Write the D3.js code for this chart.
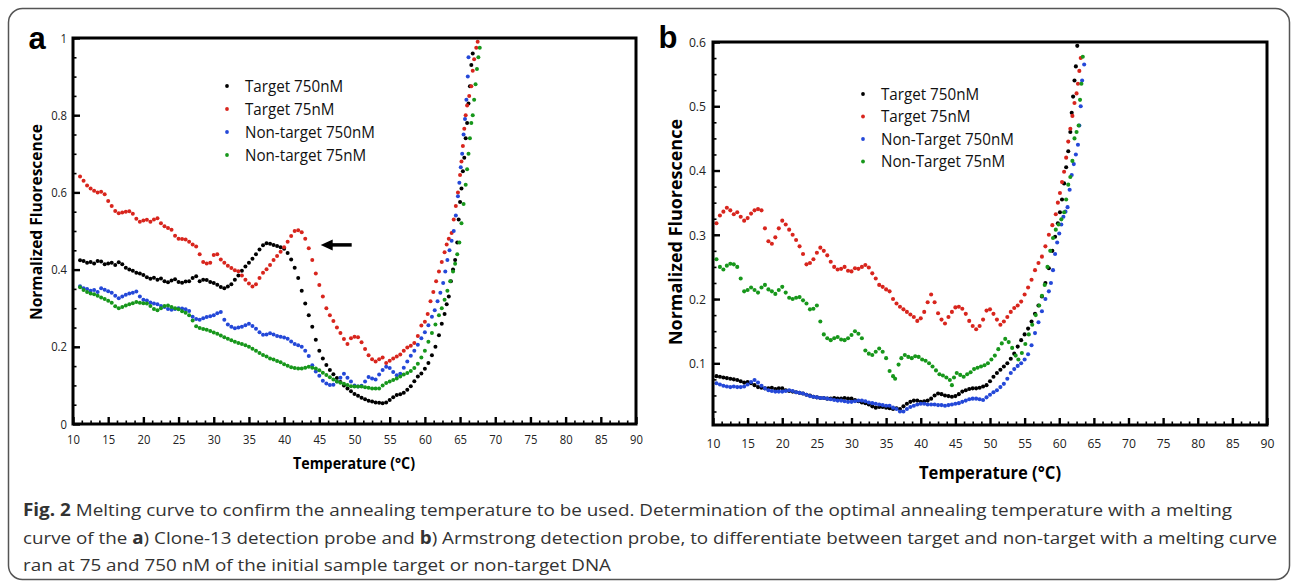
<!DOCTYPE html>
<html>
<head>
<meta charset="utf-8">
<script src="https://cdn.jsdelivr.net/npm/d3@7/dist/d3.min.js"></script>
<style>
  body { margin: 0; background: #fff; }
  svg { display: block; font-family: "Open Sans", sans-serif; }
</style>
</head>
<body>
<svg class="figure" width="1295" height="584"></svg>
<script>
// axis ticks and legend labels
let tempTicks = [10, 15, 20, 25, 30, 35, 40, 45, 50, 55, 60, 65, 70, 75, 80, 85, 90];
let fluorTicksA = [0, 0.2, 0.4, 0.6, 0.8, 1];
let fluorTicksB = [0.1, 0.2, 0.3, 0.4, 0.5, 0.6];
let legendA = ["Target 750nM", "Target 75nM", "Non-target 750nM", "Non-target 75nM"];
let legendB = ["Target 750nM", "Target 75nM", "Non-Target 750nM", "Non-Target 75nM"];

// panel a (Clone-13 probe): [temperature, normalized fluorescence]
let aTarget750 = [[11,0.424],[11.5,0.422],[12,0.418],[12.5,0.42],[13,0.416],[13.5,0.422],[14,0.421],[14.5,0.414],[15,0.416],[15.5,0.418],[16,0.412],[16.5,0.419],[17,0.414],[17.5,0.405],[18,0.4],[18.5,0.397],[19,0.392],[19.5,0.39],[20,0.386],[20.5,0.38],[21,0.376],[21.5,0.379],[22,0.374],[22.5,0.377],[23,0.37],[23.5,0.367],[24,0.372],[24.5,0.375],[25,0.368],[25.5,0.366],[26,0.369],[26.5,0.37],[27,0.378],[27.5,0.383],[28,0.37],[28.5,0.374],[29,0.373],[29.5,0.368],[30,0.365],[30.5,0.361],[31,0.355],[31.5,0.352],[32,0.356],[32.5,0.362],[33,0.374],[33.5,0.385],[34,0.397],[34.5,0.408],[35,0.418],[35.5,0.428],[36,0.44],[36.5,0.452],[37,0.463],[37.5,0.468],[38,0.467],[38.5,0.464],[39,0.461],[39.5,0.458],[40,0.454],[40.5,0.443],[41,0.426],[41.5,0.405],[42,0.378],[42.5,0.345],[43,0.312],[43.5,0.282],[44,0.252],[44.5,0.218],[45,0.19],[45.5,0.17],[46,0.153],[46.5,0.14],[47,0.129],[47.5,0.119],[48,0.109],[48.5,0.1],[49,0.092],[49.5,0.085],[50,0.078],[50.5,0.073],[51,0.068],[51.5,0.064],[52,0.06],[52.5,0.058],[53,0.056],[53.5,0.055],[54,0.054],[54.5,0.056],[55,0.062],[55.5,0.069],[56,0.075],[56.5,0.077],[57,0.081],[57.5,0.089],[58,0.098],[58.5,0.111],[59,0.123],[59.5,0.131],[60,0.143],[60.5,0.158],[61,0.178],[61.5,0.2],[62,0.23],[62.4,0.26],[62.8,0.285],[63.1,0.31],[63.4,0.33],[63.7,0.37],[64,0.4],[64.3,0.425],[64.6,0.47],[64.8,0.53],[65,0.575],[65.2,0.61],[65.4,0.655],[65.6,0.69],[65.8,0.74],[66,0.78],[66.2,0.83],[66.4,0.875],[66.6,0.93],[66.8,0.96]];
let aTarget75 = [[11,0.641],[11.5,0.63],[12,0.618],[12.5,0.61],[13,0.604],[13.5,0.6],[14,0.602],[14.5,0.595],[15,0.578],[15.5,0.565],[16,0.552],[16.5,0.546],[17,0.548],[17.5,0.55],[18,0.551],[18.5,0.545],[19,0.532],[19.5,0.524],[20,0.527],[20.5,0.529],[21,0.524],[21.5,0.53],[22,0.533],[22.5,0.52],[23,0.512],[23.5,0.508],[24,0.503],[24.5,0.488],[25,0.48],[25.5,0.479],[26,0.478],[26.5,0.472],[27,0.465],[27.5,0.46],[28,0.44],[28.5,0.42],[29,0.416],[29.5,0.418],[30,0.438],[30.5,0.44],[31,0.426],[31.5,0.418],[32,0.41],[32.5,0.404],[33,0.398],[33.5,0.396],[34,0.385],[34.5,0.374],[35,0.364],[35.5,0.356],[36,0.362],[36.5,0.378],[37,0.392],[37.5,0.401],[38,0.412],[38.5,0.425],[39,0.435],[39.5,0.446],[40,0.458],[40.5,0.472],[41,0.487],[41.5,0.5],[42,0.502],[42.5,0.497],[43,0.48],[43.5,0.455],[44,0.425],[44.5,0.39],[45,0.36],[45.5,0.33],[46,0.3],[46.5,0.282],[47,0.267],[47.5,0.25],[48,0.236],[48.5,0.22],[49,0.207],[49.5,0.222],[50,0.226],[50.5,0.225],[51,0.212],[51.5,0.194],[52,0.178],[52.5,0.168],[53,0.162],[53.5,0.168],[54,0.172],[54.5,0.158],[55,0.164],[55.5,0.17],[56,0.175],[56.5,0.18],[57,0.19],[57.5,0.198],[58,0.203],[58.5,0.21],[59,0.228],[59.5,0.255],[60,0.265],[60.4,0.285],[60.8,0.318],[61.2,0.342],[61.6,0.37],[62,0.395],[62.4,0.42],[62.8,0.445],[63.1,0.465],[63.4,0.48],[63.8,0.495],[64.1,0.53],[64.4,0.565],[64.7,0.6],[65,0.645],[65.2,0.68],[65.4,0.72],[65.6,0.765],[65.8,0.8],[66,0.825],[66.3,0.85],[66.6,0.875],[66.8,0.915],[67,0.945],[67.3,0.975],[67.5,0.99]];
let aNonTarget750 = [[11,0.357],[11.5,0.352],[12,0.35],[12.5,0.345],[13,0.347],[13.5,0.342],[14,0.352],[14.5,0.348],[15,0.344],[15.5,0.34],[16,0.332],[16.5,0.326],[17,0.33],[17.5,0.335],[18,0.338],[18.5,0.34],[19,0.343],[19.5,0.33],[20,0.322],[20.5,0.32],[21,0.315],[21.5,0.312],[22,0.31],[22.5,0.306],[23,0.303],[23.5,0.298],[24,0.296],[24.5,0.298],[25,0.3],[25.5,0.299],[26,0.297],[26.5,0.293],[27,0.278],[27.5,0.272],[28,0.27],[28.5,0.274],[29,0.277],[29.5,0.279],[30,0.282],[30.5,0.287],[31,0.29],[31.5,0.27],[32,0.258],[32.5,0.252],[33,0.248],[33.5,0.25],[34,0.252],[34.5,0.256],[35,0.26],[35.5,0.254],[36,0.247],[36.5,0.238],[37,0.231],[37.5,0.232],[38,0.235],[38.5,0.232],[39,0.228],[39.5,0.226],[40,0.224],[40.5,0.221],[41,0.214],[41.5,0.207],[42,0.204],[42.5,0.2],[43,0.19],[43.5,0.176],[44,0.152],[44.5,0.136],[45,0.125],[45.5,0.112],[46,0.105],[46.5,0.101],[47,0.102],[47.5,0.11],[48,0.12],[48.5,0.13],[49,0.12],[49.5,0.11],[50,0.1],[50.5,0.097],[51,0.099],[51.5,0.11],[52,0.122],[52.5,0.118],[53,0.115],[53.5,0.128],[54,0.14],[54.5,0.148],[55,0.145],[55.5,0.135],[56,0.126],[56.5,0.13],[57,0.146],[57.5,0.162],[58,0.177],[58.5,0.19],[59,0.205],[59.5,0.222],[60,0.238],[60.5,0.256],[61,0.278],[61.4,0.295],[61.8,0.318],[62.2,0.34],[62.6,0.365],[62.9,0.395],[63.2,0.425],[63.5,0.45],[63.8,0.475],[64.1,0.5],[64.4,0.54],[64.7,0.59],[64.9,0.625],[65.1,0.665],[65.3,0.7],[65.5,0.75],[65.7,0.79],[65.9,0.84],[66.1,0.9],[66.2,0.95]];
let aNonTarget75 = [[11,0.354],[11.5,0.347],[12,0.342],[12.5,0.338],[13,0.336],[13.5,0.332],[14,0.328],[14.5,0.324],[15,0.319],[15.5,0.314],[16,0.305],[16.5,0.3],[17,0.303],[17.5,0.307],[18,0.31],[18.5,0.313],[19,0.316],[19.5,0.314],[20,0.313],[20.5,0.312],[21,0.306],[21.5,0.298],[22,0.295],[22.5,0.3],[23,0.306],[23.5,0.307],[24,0.303],[24.5,0.3],[25,0.297],[25.5,0.292],[26,0.288],[26.5,0.282],[27,0.268],[27.5,0.253],[28,0.249],[28.5,0.246],[29,0.244],[29.5,0.241],[30,0.237],[30.5,0.234],[31,0.229],[31.5,0.225],[32,0.221],[32.5,0.217],[33,0.213],[33.5,0.21],[34,0.207],[34.5,0.204],[35,0.2],[35.5,0.195],[36,0.19],[36.5,0.184],[37,0.179],[37.5,0.175],[38,0.17],[38.5,0.167],[39,0.163],[39.5,0.16],[40,0.155],[40.5,0.151],[41,0.147],[41.5,0.145],[42,0.144],[42.5,0.144],[43,0.146],[43.5,0.148],[44,0.146],[44.5,0.144],[45,0.139],[45.5,0.133],[46,0.127],[46.5,0.121],[47,0.115],[47.5,0.11],[48,0.107],[48.5,0.104],[49,0.101],[49.5,0.098],[50,0.097],[50.5,0.097],[51,0.097],[51.5,0.095],[52,0.094],[52.5,0.092],[53,0.092],[53.5,0.092],[54,0.1],[54.5,0.106],[55,0.11],[55.5,0.114],[56,0.118],[56.5,0.123],[57,0.128],[57.5,0.132],[58,0.137],[58.5,0.145],[59,0.156],[59.5,0.172],[60,0.19],[60.5,0.213],[61,0.236],[61.5,0.258],[62,0.282],[62.4,0.3],[62.8,0.322],[63.2,0.345],[63.6,0.37],[64,0.395],[64.3,0.415],[64.6,0.44],[64.9,0.47],[65.2,0.52],[65.5,0.57],[65.8,0.62],[66,0.66],[66.2,0.7],[66.4,0.74],[66.6,0.78],[66.8,0.8],[67,0.84],[67.2,0.88],[67.4,0.92],[67.6,0.95],[67.8,0.975]];

// panel b (Armstrong probe)
let bTarget750 = [[10.5,0.08],[11,0.079],[11.5,0.078],[12,0.077],[12.5,0.076],[13,0.075],[13.5,0.074],[14,0.072],[14.5,0.07],[15,0.071],[15.5,0.069],[16,0.066],[16.5,0.063],[17,0.062],[17.5,0.061],[18,0.061],[18.5,0.062],[19,0.06],[19.5,0.061],[20,0.061],[20.5,0.058],[21,0.057],[21.5,0.056],[22,0.055],[22.5,0.054],[23,0.053],[23.5,0.051],[24,0.05],[24.5,0.048],[25,0.047],[25.5,0.046],[26,0.046],[26.5,0.045],[27,0.045],[27.5,0.046],[28,0.045],[28.5,0.045],[29,0.046],[29.5,0.045],[30,0.045],[30.5,0.043],[31,0.041],[31.5,0.039],[32,0.038],[32.5,0.036],[33,0.033],[33.5,0.031],[34,0.032],[34.5,0.032],[35,0.031],[35.5,0.03],[36,0.029],[36.5,0.03],[37,0.029],[37.5,0.033],[38,0.037],[38.5,0.04],[39,0.042],[39.5,0.042],[40,0.04],[40.5,0.041],[41,0.042],[41.5,0.045],[42,0.05],[42.5,0.053],[43,0.052],[43.5,0.05],[44,0.049],[44.5,0.048],[45,0.049],[45.5,0.052],[46,0.056],[46.5,0.058],[47,0.06],[47.5,0.061],[48,0.061],[48.5,0.062],[49,0.064],[49.5,0.066],[50,0.072],[50.5,0.079],[51,0.085],[51.5,0.09],[52,0.095],[52.5,0.1],[53,0.107],[53.5,0.115],[54,0.126],[54.5,0.136],[55,0.145],[55.5,0.154],[56,0.165],[56.5,0.177],[57,0.19],[57.5,0.204],[58,0.225],[58.5,0.248],[59,0.275],[59.4,0.297],[59.8,0.318],[60.1,0.335],[60.4,0.355],[60.7,0.38],[61,0.405],[61.3,0.43],[61.6,0.46],[61.8,0.49],[62,0.515],[62.2,0.54],[62.4,0.562],[62.6,0.594]];
let bTarget75 = [[10.5,0.318],[11,0.33],[11.5,0.336],[12,0.342],[12.5,0.338],[13,0.332],[13.5,0.335],[14,0.328],[14.5,0.322],[15,0.326],[15.5,0.333],[16,0.338],[16.5,0.34],[17,0.338],[17.5,0.31],[18,0.29],[18.5,0.286],[19,0.296],[19.5,0.31],[20,0.322],[20.5,0.316],[21,0.308],[21.5,0.3],[22,0.292],[22.5,0.282],[23,0.27],[23.5,0.254],[24,0.256],[24.5,0.262],[25,0.272],[25.5,0.28],[26,0.275],[26.5,0.268],[27,0.258],[27.5,0.25],[28,0.246],[28.5,0.247],[29,0.25],[29.5,0.244],[30,0.243],[30.5,0.248],[31,0.247],[31.5,0.25],[32,0.253],[32.5,0.249],[33,0.24],[33.5,0.232],[34,0.222],[34.5,0.219],[35,0.215],[35.5,0.212],[36,0.2],[36.5,0.193],[37,0.188],[37.5,0.184],[38,0.18],[38.5,0.176],[39,0.172],[39.5,0.166],[40,0.17],[40.5,0.18],[41,0.195],[41.5,0.207],[42,0.195],[42.5,0.178],[43,0.168],[43.5,0.162],[44,0.172],[44.5,0.18],[45,0.187],[45.5,0.188],[46,0.185],[46.5,0.177],[47,0.166],[47.5,0.158],[48,0.153],[48.5,0.158],[49,0.168],[49.5,0.182],[50,0.184],[50.5,0.177],[51,0.168],[51.5,0.16],[52,0.165],[52.5,0.172],[53,0.18],[53.5,0.186],[54,0.19],[54.5,0.196],[55,0.207],[55.5,0.218],[56,0.23],[56.5,0.245],[57,0.256],[57.5,0.266],[58,0.282],[58.5,0.3],[59,0.315],[59.5,0.332],[59.8,0.35],[60.1,0.365],[60.4,0.382],[60.7,0.398],[61,0.42],[61.3,0.445],[61.6,0.465],[61.9,0.485],[62.2,0.505],[62.5,0.52],[62.7,0.535],[62.9,0.555],[63.1,0.575]];
let bNonTarget750 = [[10.5,0.069],[11,0.067],[11.5,0.065],[12,0.064],[12.5,0.063],[13,0.064],[13.5,0.063],[14,0.063],[14.5,0.064],[15,0.067],[15.5,0.071],[16,0.074],[16.5,0.07],[17,0.065],[17.5,0.061],[18,0.058],[18.5,0.057],[19,0.056],[19.5,0.056],[20,0.056],[20.5,0.057],[21,0.058],[21.5,0.057],[22,0.055],[22.5,0.054],[23,0.053],[23.5,0.051],[24,0.049],[24.5,0.048],[25,0.047],[25.5,0.046],[26,0.046],[26.5,0.045],[27,0.044],[27.5,0.043],[28,0.042],[28.5,0.042],[29,0.041],[29.5,0.04],[30,0.04],[30.5,0.041],[31,0.042],[31.5,0.042],[32,0.041],[32.5,0.039],[33,0.038],[33.5,0.037],[34,0.036],[34.5,0.035],[35,0.034],[35.5,0.034],[36,0.031],[36.5,0.029],[37,0.025],[37.5,0.025],[38,0.029],[38.5,0.032],[39,0.034],[39.5,0.036],[40,0.037],[40.5,0.037],[41,0.036],[41.5,0.036],[42,0.036],[42.5,0.035],[43,0.035],[43.5,0.034],[44,0.035],[44.5,0.036],[45,0.037],[45.5,0.038],[46,0.04],[46.5,0.042],[47,0.044],[47.5,0.045],[48,0.045],[48.5,0.044],[49,0.043],[49.5,0.047],[50,0.051],[50.5,0.055],[51,0.058],[51.5,0.063],[52,0.068],[52.5,0.076],[53,0.085],[53.5,0.091],[54,0.096],[54.5,0.1],[55,0.106],[55.5,0.114],[56,0.128],[56.5,0.147],[57,0.164],[57.5,0.181],[58,0.2],[58.5,0.212],[58.8,0.225],[59.1,0.245],[59.4,0.27],[59.7,0.288],[60,0.302],[60.3,0.316],[60.6,0.328],[60.9,0.336],[61.2,0.343],[61.5,0.37],[61.8,0.393],[62.1,0.41],[62.4,0.425],[62.7,0.44],[62.9,0.47],[63.1,0.5],[63.3,0.54],[63.6,0.565]];
let bNonTarget75 = [[10.5,0.262],[11,0.25],[11.5,0.246],[12,0.252],[12.5,0.255],[13,0.254],[13.5,0.25],[14,0.232],[14.5,0.212],[15,0.214],[15.5,0.218],[16,0.214],[16.5,0.21],[17,0.218],[17.5,0.222],[18,0.215],[18.5,0.212],[19,0.208],[19.5,0.214],[20,0.219],[20.5,0.21],[21,0.202],[21.5,0.2],[22,0.202],[22.5,0.203],[23,0.198],[23.5,0.193],[24,0.184],[24.5,0.185],[25,0.19],[25.5,0.165],[26,0.145],[26.5,0.139],[27,0.136],[27.5,0.139],[28,0.141],[28.5,0.137],[29,0.136],[29.5,0.139],[30,0.144],[30.5,0.15],[31,0.146],[31.5,0.139],[32,0.12],[32.5,0.115],[33,0.113],[33.5,0.118],[34,0.123],[34.5,0.118],[35,0.108],[35.5,0.088],[36,0.08],[36.3,0.076],[36.8,0.098],[37.2,0.108],[37.7,0.113],[38.2,0.11],[38.7,0.108],[39.2,0.111],[39.7,0.11],[40.2,0.106],[40.7,0.104],[41.2,0.1],[41.7,0.095],[42.2,0.089],[42.7,0.083],[43.2,0.081],[43.7,0.078],[44.2,0.074],[44.5,0.066],[44.8,0.078],[45.2,0.085],[45.7,0.082],[46.2,0.079],[46.7,0.083],[47.2,0.086],[47.7,0.091],[48.2,0.093],[48.7,0.095],[49.2,0.097],[49.7,0.1],[50.2,0.106],[50.7,0.112],[51.2,0.122],[51.7,0.131],[52.2,0.138],[52.7,0.133],[53.2,0.124],[53.7,0.112],[54.1,0.106],[54.6,0.116],[55.1,0.13],[55.6,0.145],[56.1,0.16],[56.6,0.175],[57.1,0.19],[57.5,0.205],[57.9,0.222],[58.3,0.25],[58.7,0.275],[59.1,0.295],[59.5,0.308],[59.9,0.316],[60.3,0.324],[60.7,0.335],[61,0.355],[61.3,0.378],[61.6,0.39],[61.9,0.415],[62.2,0.45],[62.5,0.46],[62.8,0.47],[63,0.51],[63.2,0.535],[63.4,0.577]];

let colors = ["#000000", "#d8251d", "#2448d8", "#17971b"];

let svg = d3.select("body").select(".figure");

// squeeze text horizontally so it looks like the narrow font of the original
function squeeze(sel, ratio) {
  sel.each(function() {
    let w = this.getComputedTextLength();
    d3.select(this).attr("textLength", w * ratio).attr("lengthAdjust", "spacingAndGlyphs");
  });
}

function translate(x, y) {
  return 'translate(' + x + ',' + y + ')';
}

// outer frame
svg.append("rect")
  .attr("x", 8.5).attr("y", 8.5)
  .attr("width", 1281).attr("height", 571)
  .attr("rx", 14)
  .attr("fill", "none")
  .attr("stroke", "#555")
  .attr("stroke-width", 1.5);

let drawPanel = function(p) {
  let g = svg.append("g").attr("class", "panel-" + p.letter);
  let x = d3.scaleLinear().domain([10, 90]).range([p.left, p.right]);
  let y = d3.scaleLinear().domain(p.yDomain).range([p.bottom, p.top]);

  // minor ticks first
  let xMinor = d3.axisBottom(x)
    .tickValues(d3.range(10, 90.01, 1.25).filter(v => v % 5 !== 0))
    .tickSize(-3.5).tickFormat("");
  let yMinor = d3.axisLeft(y)
    .tickValues(d3.range(p.yDomain[1], p.yDomain[0], -p.yMinorStep))
    .tickSize(-3.5).tickFormat("");
  g.append("g").attr("transform", translate(0, p.bottom)).call(xMinor);
  g.append("g").attr("transform", translate(p.left, 0)).call(yMinor);

  let xAxis = d3.axisBottom(x).tickValues(tempTicks).tickSize(-7).tickPadding(p.xPad);
  let yAxis = d3.axisLeft(y).tickValues(p.yTicks).tickSize(-7).tickPadding(p.yPad)
    .tickFormat(d3.format("~g"));
  let xGroup = g.append("g").attr("transform", translate(0, p.bottom)).call(xAxis);
  let yGroup = g.append("g").attr("transform", translate(p.left, 0)).call(yAxis);

  g.selectAll(".domain").remove();
  g.selectAll(".tick line").attr("stroke", "#000").attr("stroke-width", 1.6);
  xGroup.selectAll(".tick line").attr("stroke-width", 2.4);
  yGroup.selectAll(".tick line").attr("stroke-width", 2.4);
  g.selectAll("g").attr("font-family", null).attr("font-size", null);
  g.selectAll(".tick text").attr("fill", "#222").style("font-size", p.tickFont + "px");
  squeeze(g.selectAll(".tick text"), 0.9);

  // data dots
  p.series.forEach((s, i) => {
    g.append("g").attr("class", "series-" + i)
      .selectAll("circle")
      .data(s)
      .join("circle")
      .attr("cx", d => x(d[0]))
      .attr("cy", d => y(d[1]))
      .attr("r", p.r)
      .attr("fill", colors[i]);
  });

  // plot frame
  g.append("rect")
    .attr("x", p.left).attr("y", p.top)
    .attr("width", p.right - p.left).attr("height", p.bottom - p.top)
    .attr("fill", "none").attr("stroke", "#000").attr("stroke-width", 3);

  // legend
  let legend = g.append("g").attr("transform", translate(p.legendX, p.legendY));
  p.names.forEach((name, i) => {
    legend.append("circle").attr("cx", 0).attr("cy", i * p.legendGap).attr("r", 1.9).attr("fill", colors[i]);
    legend.append("text").attr("class", "legend-text")
      .attr("x", 18).attr("y", i * p.legendGap).attr("dy", "0.35em")
      .style("font-size", p.legendFont + "px").attr("fill", "#111")
      .text(name);
  });
  squeeze(legend.selectAll("text"), p.legendSqueeze);

  // axis titles
  let xt = g.append("text")
    .attr("x", p.xTitleX).attr("y", p.xTitleY).attr("dy", "0.35em")
    .style("text-anchor", "middle").style("font-weight", "bold")
    .style("font-size", p.titleFont + "px")
    .text("Temperature (°C)");
  xt.attr("textLength", p.xTitleLen).attr("lengthAdjust", "spacingAndGlyphs");
  let yt = g.append("text")
    .attr("transform", translate(p.yTitleX, p.yTitleY) + " rotate(-90)")
    .attr("dy", "0.35em")
    .style("text-anchor", "middle").style("font-weight", "bold")
    .style("font-size", p.titleFont + "px")
    .text("Normalized Fluorescence");
  yt.attr("textLength", p.yTitleLen).attr("lengthAdjust", "spacingAndGlyphs");

  // panel letter
  g.append("text")
    .attr("x", p.letterX).attr("y", p.letterY)
    .style("text-anchor", "middle").style("font-weight", "bold")
    .style("font-family", "'Liberation Sans', Arial, sans-serif")
    .style("font-size", "31px")
    .text(p.letter);

  return {x: x, y: y, g: g};
};

let panelA = drawPanel({
  letter: "a", left: 73, right: 636, top: 38, bottom: 424,
  yDomain: [0, 1], yTicks: fluorTicksA, yMinorStep: 0.05,
  xPad: 11, yPad: 6, tickFont: 12.5, r: 2,
  series: [aTarget750, aTarget75, aNonTarget750, aNonTarget75], names: legendA,
  legendX: 227, legendY: 86, legendGap: 23, legendFont: 16.5, legendSqueeze: 0.92,
  titleFont: 16, xTitleX: 354, xTitleY: 463, xTitleLen: 122,
  yTitleX: 36, yTitleY: 222, yTitleLen: 196,
  letterX: 37, letterY: 49
});

// arrow pointing at the target peak
let ax = panelA.x, ay = panelA.y;
panelA.g.append("line")
  .attr("x1", ax(49.6)).attr("x2", ax(46.4))
  .attr("y1", ay(0.464)).attr("y2", ay(0.464))
  .attr("stroke", "#000").attr("stroke-width", 3.5);
panelA.g.append("path")
  .attr("d", d3.line()([[ax(45.2), ay(0.464)], [ax(46.9), ay(0.464) - 5.5], [ax(46.9), ay(0.464) + 5.5]]) + "Z")
  .attr("fill", "#000");

drawPanel({
  letter: "b", left: 713, right: 1267, top: 42, bottom: 425,
  yDomain: [0.004, 0.6], yTicks: fluorTicksB, yMinorStep: 0.025,
  xPad: 13, yPad: 7, tickFont: 13.5, r: 2.05,
  series: [bTarget750, bTarget75, bNonTarget750, bNonTarget75], names: legendB,
  legendX: 863, legendY: 94, legendGap: 22.5, legendFont: 16.5, legendSqueeze: 0.92,
  titleFont: 18, xTitleX: 990, xTitleY: 473, xTitleLen: 142,
  yTitleX: 676, yTitleY: 232, yTitleLen: 226,
  letterX: 668, letterY: 48
});

// caption
let captionLines = [
  [{t: "Fig. 2", b: true}, {t: " Melting curve to confirm the annealing temperature to be used. Determination of the optimal annealing temperature with a melting"}],
  [{t: "curve of the "}, {t: "a", b: true}, {t: ") Clone-13 detection probe and "}, {t: "b", b: true}, {t: ") Armstrong detection probe, to differentiate between target and non-target with a melting curve"}],
  [{t: "ran at 75 and 750 nM of the initial sample target or non-target DNA"}]
];
let captionWidths = [1209, 1254, 588];
let caption = svg.append("g").attr("class", "caption");
captionLines.forEach((parts, i) => {
  let t = caption.append("text")
    .attr("x", 23).attr("y", 516 + i * 27.5)
    .style("font-size", "17px").attr("fill", "#333");
  parts.forEach(part => {
    t.append("tspan").style("font-weight", part.b ? "bold" : "normal").text(part.t);
  });
  t.attr("textLength", captionWidths[i]).attr("lengthAdjust", "spacingAndGlyphs");
});
</script>
</body>
</html>
